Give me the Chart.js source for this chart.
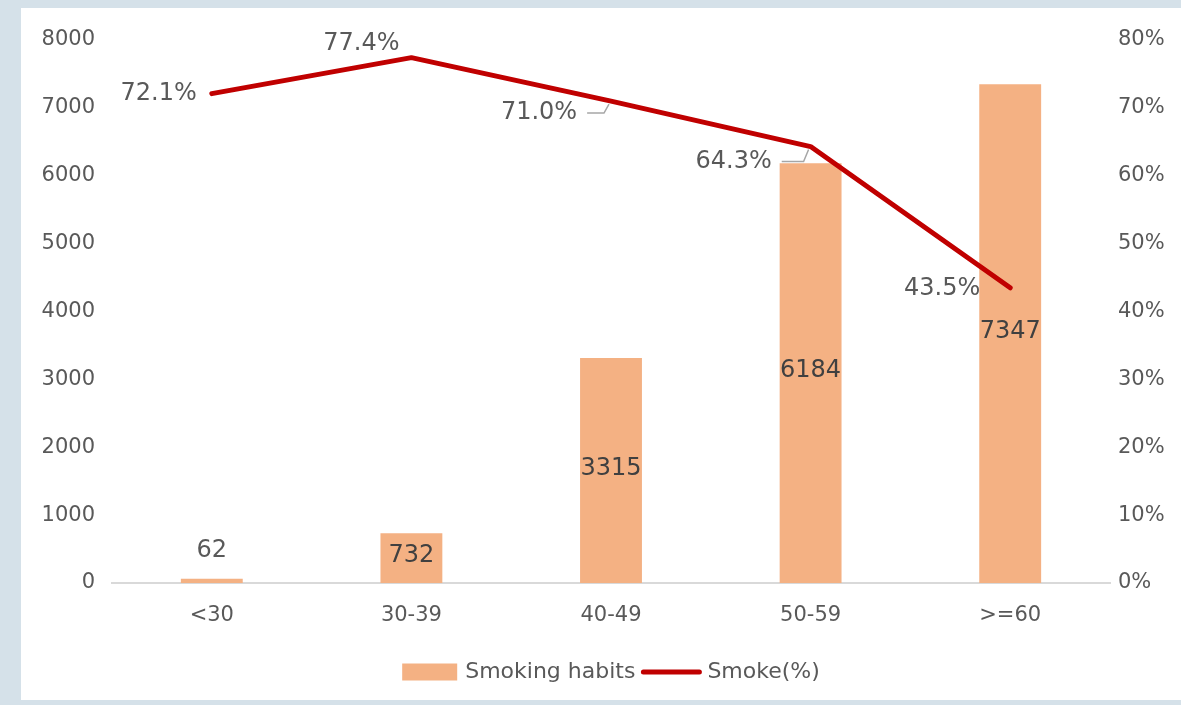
<!DOCTYPE html>
<html>
<head>
<meta charset="utf-8">
<script src="https://cdn.jsdelivr.net/npm/chart.js@4/dist/chart.umd.min.js"></script>
<style>
html,body{margin:0;padding:0;background:#d5e1e9;}
#wrap{position:absolute;left:0;top:0;width:1181px;height:705px;}
</style>
</head>
<body>
<div id="wrap"><canvas id="c"></canvas></div>
<script>
const categories = ['<30', '30-39', '40-49', '50-59', '>=60'];
const smokingHabits = [62, 732, 3315, 6184, 7347];
const smokePercent = [72.1, 77.4, 71.0, 64.3, 43.5];
const leftTicks = [0, 1000, 2000, 3000, 4000, 5000, 6000, 7000, 8000];
const rightTicks = ['0%', '10%', '20%', '30%', '40%', '50%', '60%', '70%', '80%'];
const seriesNames = ['Smoking habits', 'Smoke(%)'];

const FONT = '"DejaVu Sans", "Liberation Sans", sans-serif';
const BAR_COLOR = '#f4b183';
const LINE_COLOR = '#c00000';
const TEXT = '#595959';

// label placement for the line labels (offsets from the point, in px)
const lineLabelLayout = [
  {dx: -15, dy: 0, align: 'right', leader: false},
  {dx: -50, dy: -14, align: 'center', leader: false},
  {dx: -72, dy: 12, align: 'center', leader: true},
  {dx: -77, dy: 15, align: 'center', leader: true},
  {dx: -68, dy: 1, align: 'center', leader: false}
];

const panelPlugin = {
  id: 'panel',
  beforeDraw(chart) {
    const ctx = chart.ctx;
    ctx.save();
    ctx.fillStyle = '#d5e1e9';
    ctx.fillRect(0, 0, chart.width, chart.height);
    ctx.fillStyle = '#ffffff';
    ctx.fillRect(21, 8, chart.width - 21, 692);
    ctx.restore();
  }
};

const labelPlugin = {
  id: 'labels',
  afterDatasetsDraw(chart) {
    const ctx = chart.ctx;
    ctx.save();
    ctx.font = '24px ' + FONT;
    ctx.textBaseline = 'middle';
    // bar labels
    const barMeta = chart.getDatasetMeta(0);
    barMeta.data.forEach((el, i) => {
      const h = el.base - el.y;
      ctx.textAlign = 'center';
      if (h < 30) {
        ctx.fillStyle = TEXT;
        ctx.fillText(String(smokingHabits[i]), el.x, el.y - 28);
      } else {
        ctx.fillStyle = '#404040';
        ctx.fillText(String(smokingHabits[i]), el.x, el.y + h / 2 - 2);
      }
    });
    // line labels
    const lineMeta = chart.getDatasetMeta(1);
    lineMeta.data.forEach((el, i) => {
      const L = lineLabelLayout[i];
      const txt = smokePercent[i].toFixed(1) + '%';
      const lx = el.x + L.dx, ly = el.y + L.dy;
      ctx.fillStyle = TEXT;
      ctx.textAlign = L.align;
      ctx.fillText(txt, lx, ly);
      if (L.leader) {
        const w = ctx.measureText(txt).width;
        const sx = lx + w / 2 + 10;
        ctx.strokeStyle = '#a6a6a6';
        ctx.lineWidth = 1.5;
        ctx.beginPath();
        ctx.moveTo(sx, ly);
        ctx.lineTo(el.x - 7, ly);
        ctx.lineTo(el.x - 2, el.y + 3);
        ctx.stroke();
      }
    });
    ctx.restore();
  }
};

const legendPlugin = {
  id: 'customLegend',
  afterDraw(chart) {
    const ctx = chart.ctx;
    const area = chart.chartArea;
    ctx.save();
    ctx.font = '22px ' + FONT;
    ctx.textBaseline = 'middle';
    ctx.textAlign = 'left';
    const sw = 55, lw = 60, gap1 = 8, gap2 = 6;
    const t1 = ctx.measureText(seriesNames[0]).width;
    const t2 = ctx.measureText(seriesNames[1]).width;
    const total = sw + gap1 + t1 + gap2 + lw + gap2 + t2;
    let x = (area.left + area.right) / 2 - total / 2;
    const y = 672;
    ctx.fillStyle = BAR_COLOR;
    ctx.fillRect(x, y - 8.5, sw, 17);
    x += sw + gap1;
    ctx.fillStyle = TEXT;
    ctx.fillText(seriesNames[0], x, y);
    x += t1 + gap2;
    ctx.strokeStyle = LINE_COLOR;
    ctx.lineWidth = 5;
    ctx.lineCap = 'round';
    ctx.beginPath();
    ctx.moveTo(x + 2, y);
    ctx.lineTo(x + lw - 2, y);
    ctx.stroke();
    x += lw + gap2;
    ctx.fillStyle = TEXT;
    ctx.fillText(seriesNames[1], x, y);
    ctx.restore();
  }
};

new Chart(document.getElementById('c'), {
  data: {
    labels: categories,
    datasets: [
      {
        type: 'bar',
        label: seriesNames[0],
        data: smokingHabits,
        yAxisID: 'y',
        backgroundColor: BAR_COLOR,
        borderWidth: 0,
        categoryPercentage: 1,
        barPercentage: 0.31,
        order: 1
      },
      {
        type: 'line',
        label: seriesNames[1],
        data: smokePercent,
        yAxisID: 'y1',
        borderColor: LINE_COLOR,
        backgroundColor: LINE_COLOR,
        borderWidth: 5,
        pointRadius: 0,
        tension: 0,
        order: 0,
        borderCapStyle: 'round',
        borderJoinStyle: 'round'
      }
    ]
  },
  options: {
    responsive: true,
    maintainAspectRatio: false,
    animation: false,
    layout: {padding: {top: 40, bottom: 0, left: 0, right: 0}},
    plugins: {legend: {display: false}, tooltip: {enabled: false}},
    scales: {
      x: {
        grid: {display: false, drawTicks: false},
        border: {display: true, color: '#d9d9d9', width: 2},
        ticks: {color: TEXT, font: {family: FONT, size: 21}, padding: 20},
        afterFit(s) { s.height = 122; }
      },
      y: {
        position: 'left',
        min: 0, max: 8000,
        grid: {display: false, drawTicks: false},
        border: {display: false},
        afterBuildTicks(s) { s.ticks = leftTicks.map(v => ({value: v})); },
        ticks: {color: TEXT, font: {family: FONT, size: 21}, padding: 17,
          callback: (v) => String(v)},
        afterFit(s) { s.width = 112; }
      },
      y1: {
        position: 'right',
        min: 0, max: 80,
        grid: {display: false, drawTicks: false},
        border: {display: false},
        afterBuildTicks(s) { s.ticks = rightTicks.map((t, i) => ({value: i * 10})); },
        ticks: {color: TEXT, font: {family: FONT, size: 21}, padding: 8,
          callback: (v) => rightTicks[Math.round(v / 10)]},
        afterFit(s) { s.width = 71; }
      }
    }
  },
  plugins: [panelPlugin, labelPlugin, legendPlugin]
});
</script>
</body>
</html>
